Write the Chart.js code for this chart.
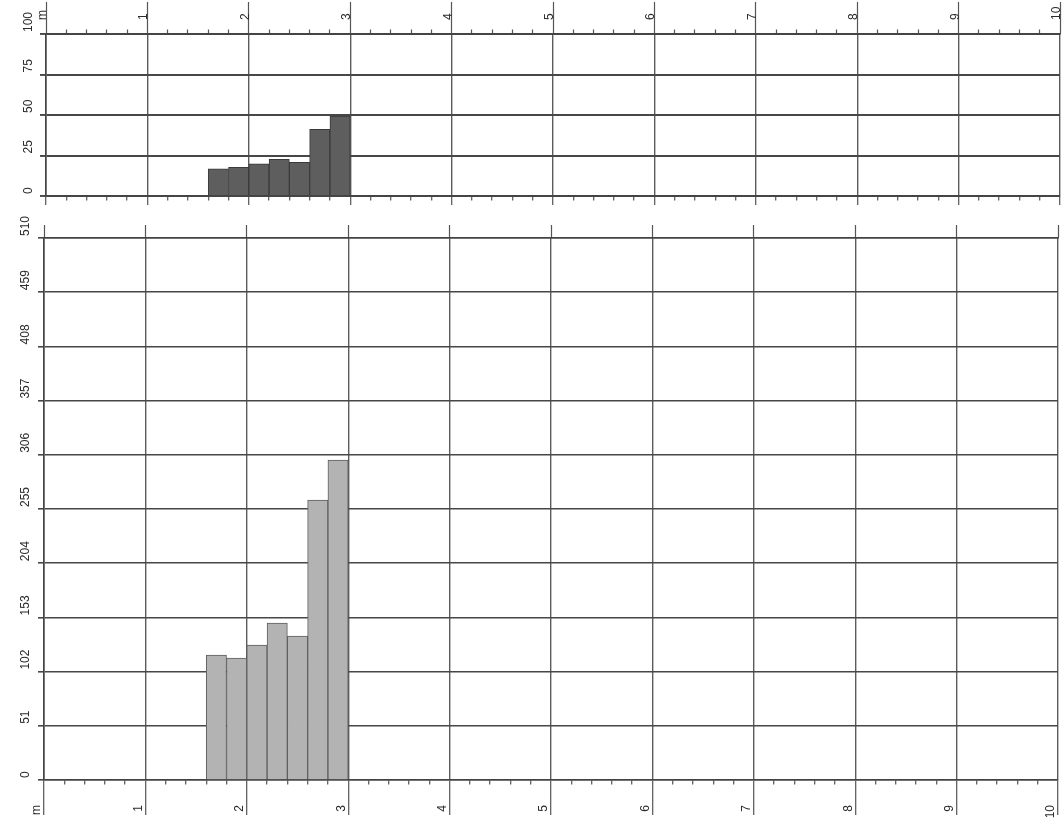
<!DOCTYPE html>
<html><head><meta charset="utf-8">
<script src="https://cdn.jsdelivr.net/npm/chart.js@4"></script>
<style>
html,body{margin:0;padding:0;background:#fff;}
#wrap{position:relative;width:1064px;height:825px;background:#fff;}
.box{position:absolute;left:0;width:1064px;}
</style></head><body>
<div id="wrap">
<div class="box" style="top:0;height:215px"><canvas id="a"></canvas></div>
<div class="box" style="top:215px;height:610px"><canvas id="b"></canvas></div>
</div>
<script>
// ---- data ----
const binCenters = [1.7, 1.9, 2.1, 2.3, 2.5, 2.7, 2.9];
const topValues = [16.7, 17.7, 19.8, 22.6, 20.8, 41.2, 49.4];
const bottomValues = [117.6, 114.8, 127, 147.7, 135.5, 263.5, 301.1];
const xTickLabels = ['m', '1', '2', '3', '4', '5', '6', '7', '8', '9', '10'];
const topYTicks = [0, 25, 50, 75, 100];
const bottomYTicks = [0, 51, 102, 153, 204, 255, 306, 357, 408, 459, 510];
const minorPerMajor = 5;

Chart.defaults.font.family = "'Liberation Sans', Arial, Helvetica, sans-serif";
Chart.defaults.font.size = 12;
Chart.defaults.color = '#2b2b2b';
Chart.defaults.animation = false;

const LINE = '#555';
const NONE = 'rgba(0,0,0,0)';
const isMajor = ctx => ctx.index % minorPerMajor === 0;

function xTicks(scale) {
  const ticks = [];
  const n = (xTickLabels.length - 1) * minorPerMajor;
  for (let i = 0; i <= n; i++) ticks.push({value: (i / minorPerMajor)});
  scale.ticks = ticks;
}
function xLabel(value, index) {
  return index % minorPerMajor === 0 ? xTickLabels[index / minorPerMajor] : '';
}
function yTicksFrom(arr) {
  return scale => { scale.ticks = arr.map(v => ({value: v})); };
}

function makeChart(id, cfg) {
  return new Chart(document.getElementById(id), {
    type: 'bar',
    data: {
      datasets: [{
        data: binCenters.map((x, i) => ({x: x, y: cfg.values[i]})),
        backgroundColor: cfg.fill,
        borderColor: cfg.border,
        borderWidth: 1,
        barPercentage: 1,
        categoryPercentage: 1
      }]
    },
    options: {
      responsive: true,
      maintainAspectRatio: false,
      animation: false,
      devicePixelRatio: 1,
      layout: {padding: {left: cfg.padLeft, right: cfg.padRight, top: 0, bottom: 0}},
      plugins: {legend: {display: false}, tooltip: {enabled: false}},
      scales: {
        x: {
          type: 'linear', position: 'bottom', min: 0, max: 10, offset: false,
          afterBuildTicks: xTicks,
          ticks: {
            display: cfg.bottomLabels, autoSkip: false, minRotation: 90, maxRotation: 90,
            padding: cfg.bottomPad, labelOffset: -7, callback: xLabel,
            font: {size: 12}
          },
          grid: {
            offset: false, drawOnChartArea: true,
            color: ctx => isMajor(ctx) ? '#5c5c5c' : NONE,
            lineWidth: 1.4,
            tickColor: LINE, tickWidth: 1.2,
            tickLength: cfg.bottomTick,
            tickBorderDash: ctx => isMajor(ctx) ? [] : [4, 1000]
          },
          border: {display: true, color: '#444', width: 1.6},
          afterFit: s => { s.height = cfg.bottomH; }
        },
        x2: {
          type: 'linear', position: 'top', min: 0, max: 10, offset: false,
          afterBuildTicks: xTicks,
          ticks: {
            display: cfg.topLabels, autoSkip: false, minRotation: 90, maxRotation: 90,
            padding: cfg.topPad, labelOffset: 11, callback: xLabel,
            font: {size: 12}
          },
          grid: {
            offset: false, drawOnChartArea: false,
            color: NONE,
            tickColor: ctx => (isMajor(ctx) || cfg.topMinor) ? LINE : NONE,
            tickWidth: 1.2,
            tickLength: cfg.topTick,
            tickBorderDash: ctx => isMajor(ctx) ? [] : [0, cfg.topTick - 4.5, 4, 1000]
          },
          border: {display: true, color: '#444', width: 1.6},
          afterFit: s => { s.height = cfg.topH; }
        },
        y: {
          type: 'linear', position: 'left',
          min: cfg.yTicks[0], max: cfg.yTicks[cfg.yTicks.length - 1],
          afterBuildTicks: yTicksFrom(cfg.yTicks),
          ticks: {
            autoSkip: false, minRotation: 90, maxRotation: 90,
            crossAlign: 'far', align: 'start', labelOffset: -2, font: {size: 12}
          },
          grid: {color: '#474747', lineWidth: cfg.hLine, tickLength: 6, tickColor: '#474747'},
          border: {display: true, color: '#444', width: 1.6},
          afterFit: s => { s.width = cfg.yW; }
        }
      }
    }
  });
}

makeChart('a', {
  values: topValues, yTicks: topYTicks,
  fill: '#5e5e5e', border: '#3a3a3a',
  padLeft: 23, padRight: 4, yW: 23,
  bottomLabels: false, bottomPad: 0, bottomTick: 9, bottomH: 19,
  topLabels: true, topPad: -18, topTick: 32, topH: 34, topMinor: true,
  hLine: 1.9
});

makeChart('b', {
  values: bottomValues, yTicks: bottomYTicks,
  fill: '#b3b3b3', border: '#5e5e5e',
  padLeft: 20, padRight: 6, yW: 24,
  bottomLabels: true, bottomPad: -10, bottomTick: 35, bottomH: 45,
  topLabels: false, topPad: 0, topTick: 13, topH: 23, topMinor: false,
  hLine: 1.6
});
</script>
</body></html>
